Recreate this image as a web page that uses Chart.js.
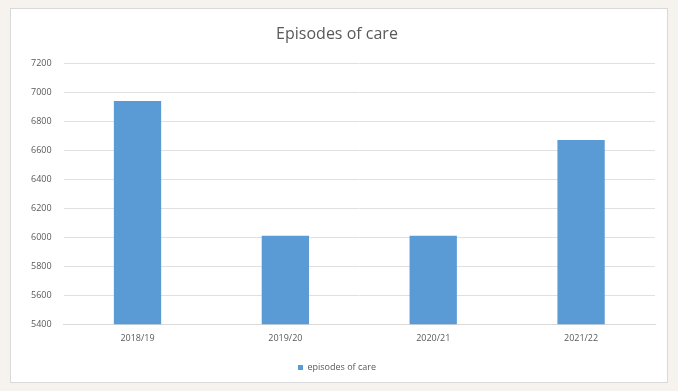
<!DOCTYPE html>
<html>
<head>
<meta charset="utf-8">
<script src="https://cdn.jsdelivr.net/npm/chart.js@4"></script>
<style>
  body { margin: 0; background: #f6f3ef; width: 678px; height: 391px; overflow: hidden; }
  #box {
    position: absolute; left: 10px; top: 8px; width: 656px; height: 373px;
    background: #fff; border: 1px solid #d9d9d9;
  }
  #box canvas { display: block; }
</style>
</head>
<body>
<div id="box"><canvas id="chart" width="656" height="373"></canvas></div>
<script>
// Dados do gráfico
const years = ['2018/19', '2019/20', '2020/21', '2021/22'];
const episodes = [6940, 6010, 6010, 6670];
const yMin = 5400;
const yMax = 7200;
const yStep = 200;

const ctx = document.getElementById('chart').getContext('2d');
new Chart(ctx, {
    type: 'bar',
    data: {
        labels: years,
        datasets: [{
            label: 'episodes of care',
            data: episodes,
            backgroundColor: '#5b9bd5',
            borderWidth: 0,
            categoryPercentage: 1,
            barPercentage: 0.32
        }]
    },
    options: {
        responsive: false,
        animation: false,
        layout: { padding: { left: 8, right: 12, top: 4, bottom: 0 } },
        plugins: {
            title: {
                display: true,
                text: 'Episodes of care',
                color: '#595959',
                font: { family: 'Open Sans', size: 16, weight: 'normal' },
                padding: { top: 12, bottom: 19 }
            },
            legend: {
                position: 'bottom',
                labels: {
                    boxWidth: 5,
                    boxHeight: 5,
                    color: '#595959',
                    font: { family: 'Open Sans', size: 9 },
                    padding: 10
                }
            },
            tooltip: { enabled: false }
        },
        scales: {
            x: {
                grid: { display: false, drawTicks: false },
                border: { color: '#d9d9d9' },
                ticks: { color: '#595959', font: { family: 'Open Sans', size: 9 }, padding: 9 }
            },
            y: {
                min: yMin,
                max: yMax,
                ticks: {
                    stepSize: yStep,
                    color: '#595959',
                    font: { family: 'Open Sans', size: 9 },
                    padding: 12,
                    callback: v => String(v)
                },
                grid: { color: '#e0e0e0', drawTicks: false },
                border: { display: false }
            }
        }
    }
});
</script>
</body>
</html>
